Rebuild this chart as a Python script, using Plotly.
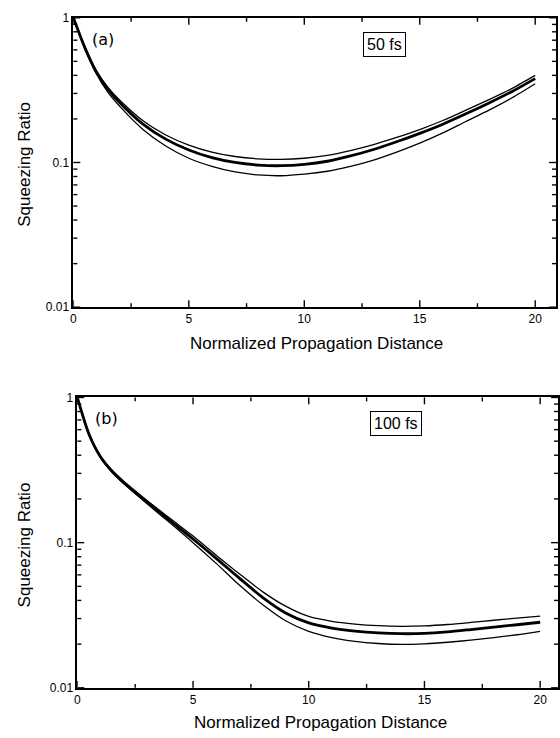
import math
import plotly.graph_objects as go

W, H = 560, 738

# ---------------- data ----------------
distance = [0, 0.5, 1, 1.5, 2, 3, 4, 5, 6, 7, 8, 9, 10, 11, 12, 13, 14, 15, 16, 17, 18, 19, 20]

a_upper = [1.0, 0.63, 0.43, 0.33, 0.27, 0.195, 0.155, 0.132, 0.118, 0.110, 0.106, 0.105, 0.107,
           0.112, 0.121, 0.133, 0.149, 0.169, 0.195, 0.230, 0.272, 0.325, 0.400]
a_middle = [1.0, 0.62, 0.42, 0.32, 0.26, 0.185, 0.145, 0.122, 0.108, 0.100, 0.096, 0.095, 0.097,
            0.102, 0.111, 0.123, 0.139, 0.159, 0.184, 0.217, 0.258, 0.310, 0.380]
a_lower = [1.0, 0.61, 0.41, 0.305, 0.245, 0.17, 0.13, 0.107, 0.094, 0.086, 0.082, 0.081, 0.083,
           0.087, 0.094, 0.104, 0.118, 0.136, 0.160, 0.192, 0.230, 0.280, 0.350]

b_upper = [1.0, 0.57, 0.395, 0.315, 0.265, 0.196, 0.147, 0.111, 0.082, 0.061, 0.046, 0.0365, 0.031,
           0.0287, 0.0275, 0.0268, 0.0265, 0.0267, 0.0273, 0.0282, 0.0292, 0.0302, 0.0312]
b_middle = [1.0, 0.56, 0.39, 0.31, 0.26, 0.191, 0.142, 0.106, 0.078, 0.057, 0.042, 0.0328, 0.028,
            0.0258, 0.0246, 0.0239, 0.0236, 0.0237, 0.0243, 0.0252, 0.0262, 0.0272, 0.0283]
b_lower = [1.0, 0.55, 0.385, 0.305, 0.255, 0.186, 0.137, 0.100, 0.072, 0.051, 0.0375, 0.029, 0.0245,
           0.0222, 0.0209, 0.0202, 0.0199, 0.0201, 0.0206, 0.0213, 0.0222, 0.0232, 0.0245]

x_ticks = [0, 5, 10, 15, 20]
x_minor_ticks = [2.5, 7.5, 12.5, 17.5]
y_ticks = [0.01, 0.1, 1]
y_tick_text = ["0.01", "0.1", "1"]
y_minor_ticks = [0.02, 0.03, 0.04, 0.05, 0.06, 0.07, 0.08, 0.09,
                 0.2, 0.3, 0.4, 0.5, 0.6, 0.7, 0.8, 0.9]
panel_labels = ["(a)", "(b)"]
pulse_labels = ["50 fs", "100 fs"]
x_title = "Normalized Propagation Distance"
y_title = "Squeezing Ratio"

FONT = "Liberation Sans, Arial, sans-serif"
Y_LOG_RANGE = [-2, 0]


def px_x(p):
    return p / W


def px_y(p):
    return 1 - p / H


# panel geometry (pixels): left, right, top, bottom ; x range
panel_geom = [
    dict(l=71, r=558, t=11, b=306, xr=[0, 487 / 23.3]),
    dict(l=75, r=560, t=398, b=694, xr=[0, 485 / 23.35]),
]
panel_data = [(a_upper, a_middle, a_lower), (b_upper, b_middle, b_lower)]

fig = go.Figure()
layout = dict(width=W, height=H, margin=dict(l=0, r=0, t=0, b=0),
              paper_bgcolor="white", plot_bgcolor="white", showlegend=False)
shapes = []

for i, (g, series_set) in enumerate(zip(panel_geom, panel_data)):
    sx = "" if i == 0 else str(i + 1)
    xname, yname = "x" + sx, "y" + sx
    xdom = [px_x(g["l"]), px_x(g["r"])]
    ydom = [px_y(g["b"]), px_y(g["t"])]
    wpx = g["r"] - g["l"]
    hpx = g["b"] - g["t"]

    for series, width in zip(series_set, (1.3, 2.8, 1.3)):
        fig.add_trace(go.Scatter(x=distance, y=series, mode="lines", xaxis=xname, yaxis=yname,
                                 line=dict(color="black", width=width, shape="spline", smoothing=0.7),
                                 hoverinfo="skip"))

    layout["xaxis" + sx] = dict(domain=xdom, range=g["xr"], anchor=yname, showline=True,
                                linecolor="black", linewidth=1.5, mirror=True, ticks="",
                                tickmode="array", tickvals=x_ticks, showgrid=False, zeroline=False,
                                tickfont=dict(family=FONT, size=12, color="black"))
    layout["yaxis" + sx] = dict(domain=ydom, type="log", range=Y_LOG_RANGE, anchor=xname,
                                showline=True, linecolor="black", linewidth=1.5, mirror=True,
                                ticks="", tickmode="array", tickvals=y_ticks, ticktext=y_tick_text,
                                showgrid=False, zeroline=False,
                                tickfont=dict(family=FONT, size=12, color="black"))

    # inward tick marks on all four sides (x in data units, length in domain units)
    for vals, length in ((x_ticks, 7), (x_minor_ticks, 4)):
        f = length / hpx
        for v in vals:
            for y0, y1 in ((0, f), (1, 1 - f)):
                shapes.append(dict(type="line", xref=xname, yref=yname + " domain",
                                   x0=v, x1=v, y0=y0, y1=y1,
                                   line=dict(color="black", width=1.4)))
    for vals, length in ((y_ticks, 7), (y_minor_ticks, 4)):
        f = length / wpx
        for v in vals:
            yd = (math.log10(v) - Y_LOG_RANGE[0]) / (Y_LOG_RANGE[1] - Y_LOG_RANGE[0])
            for x0, x1 in ((0, f), (1, 1 - f)):
                shapes.append(dict(type="line", xref=xname + " domain", yref=yname + " domain",
                                   x0=x0, x1=x1, y0=yd, y1=yd,
                                   line=dict(color="black", width=1.4)))

fig.update_layout(**layout)
fig.update_layout(shapes=shapes)

annotations = []
for label, (px, py) in zip(panel_labels, [(101, 33), (104, 419)]):
    annotations.append(dict(text=label, x=px_x(px), y=px_y(py), xref="paper", yref="paper",
                            xanchor="center", yanchor="middle", showarrow=False,
                            font=dict(family="DejaVu Sans", size=16, color="black")))
for label, (px, py) in zip(pulse_labels, [(385, 38), (397, 425)]):
    annotations.append(dict(text=label, x=px_x(px), y=px_y(py), xref="paper", yref="paper",
                            xanchor="center", yanchor="middle", showarrow=False,
                            bordercolor="black", borderwidth=1, borderpad=3, bgcolor="white",
                            font=dict(family=FONT, size=16, color="black")))
for py in (160, 548):
    annotations.append(dict(text=y_title, x=px_x(22), y=px_y(py), xref="paper", yref="paper",
                            xanchor="center", yanchor="middle", showarrow=False, textangle=-90,
                            font=dict(family=FONT, size=17, color="black")))
for px, py in ((316, 343), (320, 729)):
    annotations.append(dict(text=x_title, x=px_x(px), y=px_y(py), xref="paper", yref="paper",
                            xanchor="center", yanchor="middle", showarrow=False,
                            font=dict(family=FONT, size=17, color="black")))
fig.update_layout(annotations=annotations)

fig.write_html(
    "out.html",
    config={"displayModeBar": False},
    post_script="document.body.style.margin='0';document.body.style.overflow='hidden';"
                "document.documentElement.style.overflow='hidden';",
)
